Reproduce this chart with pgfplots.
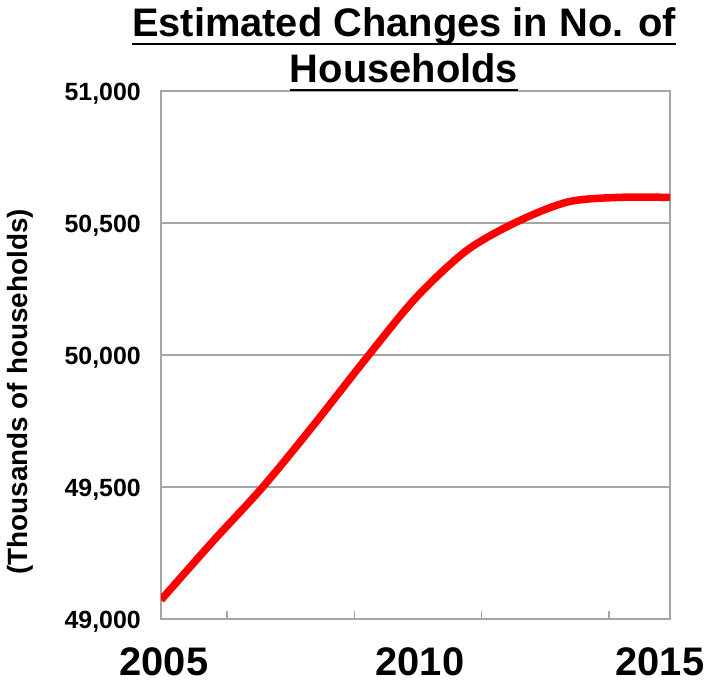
\documentclass[border=0pt]{standalone}
\usepackage{fontspec}
\setmainfont{Liberation Sans}
\usepackage{pgfplots}
\pgfplotsset{compat=1.18}
\definecolor{framegray}{RGB}{165,165,165}
\definecolor{curvered}{RGB}{255,0,0}

\begin{document}
\begin{tikzpicture}[x=1bp,y=1bp]
\path[use as bounding box] (0,0) rectangle (709,684);
% number of households, thousands, yearly estimates
\begin{axis}[
  at={(161bp,65bp)}, anchor=south west,
  width=509bp, height=528bp, scale only axis,
  xmin=2005, xmax=2015, ymin=49000, ymax=51000,
  ytick={49000,49500,...,51000},
  scaled y ticks=false,
  xtick=\empty,
  extra x ticks={2006.3,2008.8,2011.3,2013.8},
  extra x tick labels={},
  xtick pos=bottom,
  extra x tick style={major tick length=8bp, tick align=inside,
    major tick style={framegray, line width=1.6bp}},
  ymajorgrids,
  grid style={framegray, line width=2.8bp},
  axis line style={framegray, line width=2.8bp},
  ytick style={draw=none},
  /pgf/number format/assume math mode=true,
  /pgf/number format/fixed,
  /pgf/number format/precision=0,
  /pgf/number format/1000 sep={,},
  yticklabel style={font=\fontsize{25}{25}\selectfont\bfseries,
    anchor=east, inner sep=0pt, xshift=-20bp, yshift=-3bp},
]
\addplot[curvered, line width=7.5bp, smooth, tension=0.5] coordinates {
  (2005,49072) (2006,49290) (2007,49500) (2008,49735) (2009,49980)
  (2010,50215) (2011,50395) (2012,50505) (2013,50580) (2014,50597)
  (2015,50597)
};
\end{axis}

% title, two underlined lines
\node[font=\fontsize{40}{40}\selectfont\bfseries, anchor=base, inner sep=0pt] (t1) at (404,684-37) {Estimated Changes in No. of};
\draw[line width=2.8bp] ([yshift=-7bp]t1.base west) -- ([yshift=-7bp]t1.base east);
\node[font=\fontsize{40}{40}\selectfont\bfseries, anchor=base, inner sep=0pt] (t2) at (404,684-83) {Households};
\draw[line width=2.8bp] ([yshift=-7bp]t2.base west) -- ([yshift=-7bp]t2.base east);

% axis title and year labels
\node[font=\fontsize{28}{28}\selectfont\bfseries, rotate=90, inner sep=0pt] at (20,292) {(Thousands of households)};
\node[font=\fontsize{40}{40}\selectfont\bfseries, inner sep=0pt] at (164,22) {2005};
\node[font=\fontsize{40}{40}\selectfont\bfseries, inner sep=0pt] at (420,22) {2010};
\node[font=\fontsize{40}{40}\selectfont\bfseries, inner sep=0pt] at (660,22) {2015};
\end{tikzpicture}
\end{document}
